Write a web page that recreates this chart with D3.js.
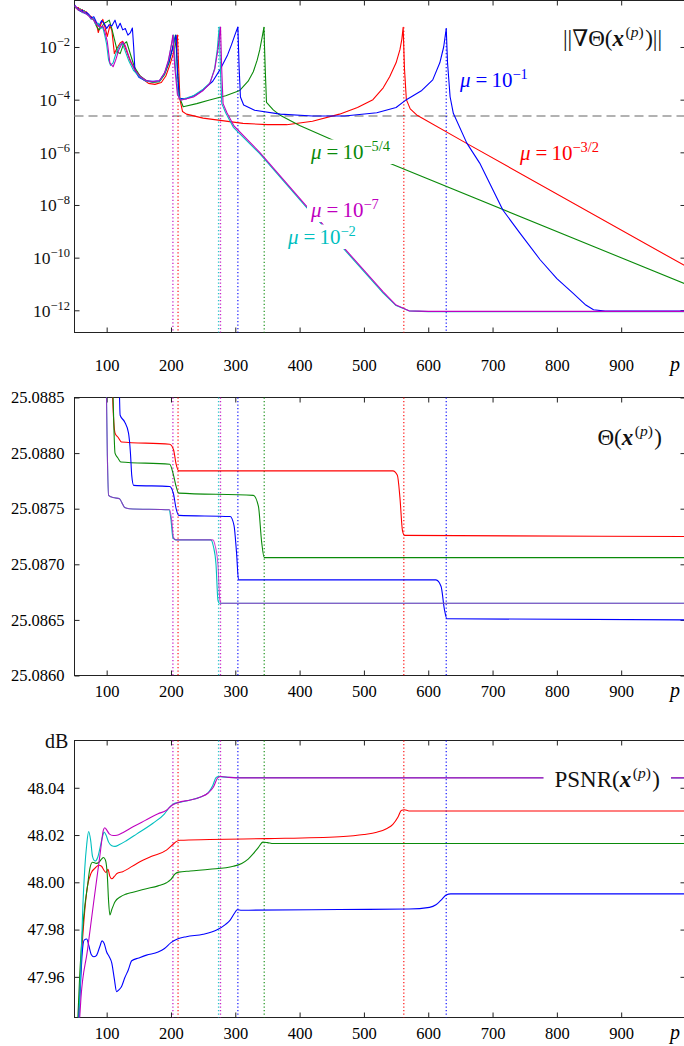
<!DOCTYPE html>
<html>
<head>
<meta charset="utf-8">
<script src="https://cdn.jsdelivr.net/npm/d3@7"></script>
<style>
  body { margin: 0; background: #fff; }
  svg { display: block; }
</style>
</head>
<body>
<div id="chart"></div>
<script>
// ---- data -------------------------------------------------------------
const pTicks = [100, 200, 300, 400, 500, 600, 700, 800, 900];
const gradTicks = [-2, -4, -6, -8, -10, -12];          // exponents, log axis
const thetaTicks = [25.0860, 25.0865, 25.0870, 25.0875, 25.0880, 25.0885];
const psnrTicks = [47.96, 47.98, 48.00, 48.02, 48.04];

// iterations where a run switches (dotted verticals) and log10 peak there
const switchIter = [203, 211, 274, 277, 304, 345, 562, 628];
const switchSeries = ['magenta', 'red', 'cyan', 'magenta', 'blue', 'green', 'red', 'blue'];
const switchPeak = [-1.55, -1.55, -1.24, -1.24, -1.24, -1.25, -1.25, -1.3];

const gradTolerance = -4.62;   // log10 of the dashed level

// log10 ||grad Theta(x^(p))||  as [p, exponent]
const gradRed = [[50,-0.42],[53,-0.55],[56,-0.5],[59,-0.62],[62,-0.58],[65,-0.7],[68,-0.66],[72,-0.78],[76,-0.85],[80,-0.95],[84,-1.1],[87,-1.45],[90,-1.2],[94,-0.95],[98,-1.3],[101,-1.6],[105,-1.2],[108,-1.35],[112,-2.25],[116,-2.05],[121,-1.85],[125,-1.78],[130,-2.1],[137,-2.55],[145,-2.9],[155,-3.2],[165,-3.38],[175,-3.42],[185,-3.35],[192,-3.1],[198,-2.7],[203,-2.3],[207,-1.9],[210,-1.55],[212,-2.8],[214,-4.0],[218,-4.45],[224,-4.55],[250,-4.7],[312,-4.9],[350,-4.95],[380,-4.95],[420,-4.82],[462,-4.55],[490,-4.3],[514,-4.0],[530,-3.55],[540,-3.13],[550,-2.6],[556,-2.1],[559,-1.7],[561,-1.25],[563,-2.8],[566,-4.0],[572,-4.35],[582,-4.58],[659,-5.65],[1000,-10.32]];
const gradGreen = [[50,-0.45],[53,-0.5],[56,-0.6],[59,-0.55],[62,-0.65],[65,-0.62],[68,-0.72],[72,-0.8],[76,-0.88],[80,-0.98],[84,-1.2],[88,-1.35],[92,-1.25],[96,-1.1],[100,-1.05],[104,-0.98],[108,-1.3],[112,-1.7],[117,-2.2],[121,-2.25],[126,-1.9],[131,-1.8],[136,-2.2],[143,-2.75],[152,-3.1],[162,-3.28],[172,-3.35],[182,-3.32],[190,-3.05],[197,-2.6],[202,-2.1],[205,-1.75],[207,-1.55],[210,-2.8],[213,-3.9],[219,-4.27],[240,-4.15],[260,-4.01],[285,-3.85],[307,-3.65],[320,-3.3],[328,-2.94],[334,-2.5],[338,-2.11],[342,-1.6],[344.5,-1.25],[346.5,-2.8],[348.5,-4.1],[359,-4.39],[369,-4.58],[400,-4.98],[462,-5.65],[520,-6.22],[1000,-11.0]];
const gradBlue = [[50,-0.4],[53,-0.5],[56,-0.55],[59,-0.65],[62,-0.6],[65,-0.72],[68,-0.68],[72,-0.75],[76,-0.9],[80,-0.85],[84,-1.05],[88,-1.2],[92,-1.0],[96,-1.1],[100,-1.3],[104,-1.15],[108,-1.2],[113,-0.98],[117,-1.3],[121,-1.1],[125,-1.35],[129,-1.3],[133,-1.55],[137,-1.45],[140,-1.28],[142,-2.0],[144,-2.9],[150,-3.15],[160,-3.28],[172,-3.3],[182,-3.28],[190,-3.0],[197,-2.55],[203,-2.0],[206,-1.7],[208,-1.55],[210,-2.9],[213,-3.95],[224,-3.97],[240,-3.8],[250,-3.63],[265,-3.3],[276,-2.87],[288,-2.3],[294,-1.92],[300,-1.5],[304,-1.24],[306,-2.8],[308,-3.9],[313,-4.2],[330,-4.4],[370,-4.55],[420,-4.62],[470,-4.62],[520,-4.5],[550,-4.3],[566,-4.0],[590,-3.65],[607,-3.25],[618,-2.6],[624,-2.0],[628,-1.3],[630,-2.6],[634,-3.89],[639,-4.52],[660,-5.65],[680,-6.41],[716,-8.19],[742,-9.05],[774,-10.08],[800,-10.8],[825,-11.35],[845,-11.8],[857,-11.98],[875,-12.03],[1000,-12.03]];
const gradCyan = [[50,-0.45],[53,-0.52],[56,-0.58],[59,-0.6],[62,-0.7],[65,-0.65],[68,-0.75],[72,-0.8],[76,-0.95],[79,-0.9],[83,-1.15],[87,-1.1],[90,-1.3],[94,-1.25],[97,-1.55],[100,-1.9],[103,-2.5],[106,-2.7],[110,-2.6],[115,-2.2],[120,-1.95],[124,-1.85],[128,-2.1],[134,-2.5],[142,-2.9],[152,-3.15],[162,-3.3],[172,-3.33],[182,-3.3],[190,-3.0],[196,-2.55],[200,-2.0],[204,-1.55],[207,-2.8],[211,-3.8],[215,-4.0],[225,-3.93],[235,-3.85],[250,-3.6],[261,-3.35],[268,-2.8],[272,-2.1],[275,-1.24],[277,-2.9],[279,-4.15],[285,-4.5],[297,-5.05],[338,-6.05],[411,-8.1],[468,-9.65],[530,-11.35],[550,-11.82],[570,-12.02],[600,-12.05],[1000,-12.05]];
const gradMagenta = [[50,-0.43],[53,-0.5],[56,-0.6],[59,-0.58],[62,-0.68],[65,-0.66],[68,-0.74],[72,-0.82],[76,-0.92],[79,-0.95],[83,-1.1],[87,-1.2],[90,-1.25],[94,-1.2],[97,-1.4],[101,-1.8],[105,-2.6],[110,-2.75],[114,-2.5],[119,-2.1],[125,-1.81],[129,-1.95],[135,-2.4],[143,-2.85],[152,-3.12],[162,-3.28],[172,-3.32],[182,-3.28],[190,-2.98],[196,-2.5],[200,-2.0],[203,-1.55],[206,-2.8],[210,-3.8],[215,-4.02],[235,-3.9],[250,-3.65],[260,-3.4],[268,-2.85],[273,-2.1],[277,-1.24],[279,-2.9],[281,-4.15],[287,-4.5],[298,-5.0],[338,-6.0],[411,-8.05],[468,-9.6],[530,-11.3],[550,-11.8],[570,-12.02],[600,-12.04],[1000,-12.04]];

// Theta(x^(p))
const thetaRed = [[106,25.0892],[110,25.0884],[113,25.08818],[118,25.08814],[123,25.0881],[198,25.08808],[204,25.08803],[208,25.0879],[212,25.08784],[545,25.08784],[552,25.0878],[556,25.0876],[560,25.0873],[563,25.08726],[1000,25.08725]];
const thetaGreen = [[106,25.0895],[110,25.0885],[113,25.0880],[117,25.08796],[122,25.08792],[198,25.0879],[204,25.0878],[208,25.0877],[212,25.08764],[328,25.08762],[336,25.08752],[341,25.0872],[345,25.08706],[1000,25.08706]];
const thetaBlue = [[118,25.0893],[121,25.08834],[128,25.08828],[134,25.08818],[137,25.0880],[139,25.0878],[142,25.08771],[198,25.0877],[204,25.08763],[208,25.0875],[212,25.08744],[292,25.08743],[298,25.08735],[302,25.0871],[305,25.08686],[612,25.08686],[620,25.0868],[625,25.0866],[629,25.08651],[1000,25.0865]];
const thetaCyan = [[98,25.0892],[101,25.0880],[103,25.08762],[110,25.0876],[120,25.08759],[124,25.08755],[128,25.08751],[135,25.0875],[197,25.08749],[200,25.0874],[203,25.08724],[207,25.08722],[262,25.08722],[266,25.08716],[270,25.087],[273,25.08668],[275,25.08665],[1000,25.08665]];
const thetaMagenta = [[98,25.0892],[101,25.0880],[103,25.08762],[110,25.0876],[120,25.08759],[124,25.08755],[128,25.08751],[135,25.0875],[198,25.08749],[201,25.0874],[204,25.08724],[208,25.08722],[265,25.08722],[269,25.08716],[273,25.087],[276,25.08668],[278,25.08665],[1000,25.08665]];

// PSNR(x^(p)) in dB
const psnrRed = [[55,47.935],[60,47.965],[65,47.985],[70,47.998],[76,48.004],[82,48.006],[88,48.0072],[92,48.0068],[96,48.005],[99,48.0042],[102,48.0055],[105,48.0025],[108,48.0015],[112,48.0025],[116,48.0037],[125,48.0045],[147,48.008],[170,48.011],[193,48.0136],[203,48.016],[208,48.0172],[214,48.0178],[260,48.0181],[350,48.0185],[462,48.0193],[500,48.0202],[520,48.0212],[535,48.0227],[545,48.0245],[553,48.0276],[558,48.0304],[563,48.0307],[570,48.0302],[1000,48.0302]];
const psnrGreen = [[54,47.935],[58,47.96],[62,47.978],[66,47.99],[70,47.998],[74,48.006],[78,48.0085],[84,48.008],[88,48.0085],[92,48.0098],[95,48.0105],[98,48.0095],[101,48.003],[103,47.992],[105,47.9862],[108,47.9885],[113,47.9918],[121,47.9938],[130,47.995],[141,47.9958],[160,47.9972],[180,47.9985],[193,47.9998],[200,48.0012],[206,48.0035],[212,48.0043],[230,48.0048],[260,48.0055],[297,48.0068],[310,48.008],[320,48.0098],[328,48.0121],[336,48.0148],[343,48.017],[350,48.0168],[359,48.0164],[1000,48.0164]];
const psnrBlue = [[55,47.935],[59,47.955],[62,47.97],[65,47.9755],[69,47.976],[72,47.9735],[76,47.9695],[80,47.9685],[84,47.969],[89,47.9725],[93,47.9752],[96,47.9742],[100,47.9705],[104,47.9685],[108,47.9658],[112,47.959],[115.5,47.9537],[119,47.9545],[123,47.9558],[128,47.9595],[133.6,47.9629],[139,47.9668],[150,47.968],[162,47.9692],[180,47.9705],[190,47.972],[200,47.9745],[210,47.976],[224,47.977],[250,47.978],[271,47.9798],[285,47.9822],[292,47.984],[299,47.987],[303,47.9884],[310,47.9882],[462,47.9885],[570,47.9887],[602,47.9894],[612,47.9905],[620,47.9925],[628,47.9946],[635,47.9951],[1000,47.9951]];
const psnrCyan = [[56,47.935],[60,47.965],[63,47.99],[66,48.006],[69,48.016],[72,48.0215],[75,48.018],[78,48.011],[82,48.009],[86,48.0105],[90,48.015],[94,48.0198],[96,48.0213],[99,48.02],[103,48.017],[108,48.0155],[113,48.0152],[120,48.016],[130,48.0175],[147,48.0205],[172,48.025],[190,48.029],[198,48.0318],[205,48.0333],[211,48.0337],[230,48.0348],[245,48.036],[258,48.038],[265,48.041],[270,48.0443],[274,48.0448],[280,48.0446],[300,48.0443],[1000,48.0442]];
const psnrMagenta = [[57,47.938],[60,47.951],[70,47.971],[80,47.992],[90,48.0124],[95,48.0222],[97,48.0231],[100,48.0222],[104,48.0205],[110,48.0198],[116,48.0199],[125,48.021],[141,48.0235],[160,48.0262],[180,48.029],[193,48.0305],[201,48.0325],[211,48.0338],[230,48.0348],[245,48.036],[258,48.0378],[266,48.0403],[273,48.0443],[278,48.0448],[290,48.0444],[302,48.0442],[1000,48.0442]];

// ---- drawing ----------------------------------------------------------
const FONT = '"Liberation Serif", "DejaVu Serif", serif';
const colors = { red: '#ff0000', green: '#0a8a0a', blue: '#0000ff', cyan: '#00bfbf', magenta: '#bf00bf' };

const svg = d3.select('#chart').append('svg')
    .attr('width', 684).attr('height', 1046)
    .attr('font-family', FONT);

const x = d3.scaleLinear().domain([50, 1000]).range([74.5, 685.5]);
const xl = x.range()[0], xr = x.range()[1];

const yGrad = d3.scaleLog().domain([Math.pow(10, -12.843), Math.pow(10, -0.234)]).range([332.5, 0.5]);
const yTheta = d3.scaleLinear().domain([25.0860, 25.0885]).range([675.5, 397.5]);
const yPsnr = d3.scaleLinear().domain([47.9428, 48.0600]).range([1017.5, 740.5]);

function frame(y, top, bottom, name, labelPad) {
    let g = svg.append('g');
    // clip for the curves
    svg.append('clipPath').attr('id', 'clip-' + name)
        .append('rect').attr('x', xl).attr('y', top).attr('width', xr - xl).attr('height', bottom - top);

    // bottom axis with labels
    let bx = g.append('g').attr('transform', 'translate(0,' + bottom + ')')
        .call(d3.axisBottom(x).tickValues(pTicks).tickSize(-5).tickPadding(labelPad));
    bx.select('.domain').remove();
    bx.attr('font-family', FONT).attr('font-size', 16.5);
    bx.selectAll('line').attr('stroke', '#222');

    // top ticks
    let tx = g.append('g').attr('transform', 'translate(0,' + top + ')')
        .call(d3.axisTop(x).tickValues(pTicks).tickSize(-5).tickFormat(''));
    tx.select('.domain').remove();
    tx.selectAll('line').attr('stroke', '#222');

    // x label
    g.append('text')
        .attr('x', 670).attr('y', bottom + labelPad + 11.7)
        .attr('font-size', 20).attr('font-style', 'italic')
        .text('p');

    g.append('rect')
        .attr('x', xl).attr('y', top).attr('width', xr - xl).attr('height', bottom - top)
        .attr('fill', 'none').attr('stroke', '#222').attr('stroke-width', 1);
    return g;
}

function yTicks(g, axis) {
    let ly = g.append('g').attr('transform', 'translate(' + xl + ',0)').call(axis.left);
    ly.select('.domain').remove();
    ly.attr('font-family', FONT).attr('font-size', 16.5);
    ly.selectAll('line').attr('stroke', '#222');
    let ry = g.append('g').attr('transform', 'translate(' + xr + ',0)').call(axis.right);
    ry.select('.domain').remove();
    ry.selectAll('line').attr('stroke', '#222');
    return ly;
}

function drawSeries(y, list, clipName, curve, yval) {
    let line = d3.line()
        .x(d => x(d[0]))
        .y(d => y(yval(d[1])))
        .curve(curve);
    let g = svg.append('g').attr('clip-path', 'url(#clip-' + clipName + ')');
    list.forEach(s => {
        g.append('path')
            .datum(s.data)
            .attr('d', line)
            .attr('fill', 'none')
            .attr('stroke', colors[s.color])
            .attr('stroke-opacity', s.opacity || 1)
            .attr('stroke-width', 1.1)
            .attr('stroke-linejoin', 'round');
    });
}

function switchLines(yTopFn, bottom) {
    svg.append('g').selectAll('line')
        .data(switchIter)
        .enter()
        .append('line')
        .attr('x1', d => x(d)).attr('x2', d => x(d))
        .attr('y1', (d, i) => yTopFn(i))
        .attr('y2', bottom)
        .attr('stroke', (d, i) => colors[switchSeries[i]])
        .attr('stroke-opacity', 0.85)
        .attr('stroke-width', 1.3)
        .attr('stroke-dasharray', '1.3,2.2');
}

// a "mu = 10^e" label, with a white box behind it
function muLabel(px, py, color, expo) {
    let g = svg.append('g');
    let t = g.append('text').attr('x', px).attr('y', py)
        .attr('fill', colors[color]).attr('font-size', 21);
    t.append('tspan').attr('font-style', 'italic').text('μ');
    t.append('tspan').attr('dx', 5).text('=');
    t.append('tspan').attr('dx', 4).text('10');
    t.append('tspan').attr('dy', -8.5).attr('font-size', 14.5).text(expo);
    let b = t.node().getBBox();
    g.insert('rect', 'text')
        .attr('x', b.x - 3).attr('y', b.y + 2).attr('width', b.width + 6).attr('height', b.height - 2)
        .attr('fill', '#fff');
}

// a math title like  Theta(x^(p)) , right aligned
function mathTitle(px, py, before, after, pad) {
    let g = svg.append('g');
    let t = g.append('text').attr('x', px).attr('y', py)
        .attr('text-anchor', 'end').attr('font-size', 23).attr('fill', '#111');
    t.append('tspan').text(before);
    t.append('tspan').attr('font-weight', 'bold').attr('font-style', 'italic').text('x');
    t.append('tspan').attr('dx', 1.5).attr('dy', -9).attr('font-size', 15.5).text('(');
    t.append('tspan').attr('font-size', 15.5).attr('font-style', 'italic').text('p');
    t.append('tspan').attr('font-size', 15.5).text(')');
    t.append('tspan').attr('dx', 1.5).attr('dy', 9).text(after);
    if (pad) {
        let b = t.node().getBBox();
        g.insert('rect', 'text')
            .attr('x', b.x - pad).attr('y', b.y).attr('width', b.width + 2 * pad).attr('height', b.height)
            .attr('fill', '#fff');
    }
}

// ---- panel 1 : gradient norm (log scale) ----
let g1 = frame(yGrad, 0.5, 332.5, 'grad', 27);
yTicks(g1, {
    left: d3.axisLeft(yGrad).tickValues(gradTicks.map(e => Math.pow(10, e))).tickSize(-5).tickFormat(''),
    right: d3.axisRight(yGrad).tickValues(gradTicks.map(e => Math.pow(10, e))).tickSize(-5).tickFormat('')
});
gradTicks.forEach(e => {
    let t = svg.append('text')
        .attr('x', 70).attr('y', yGrad(Math.pow(10, e)) + 6.3)
        .attr('text-anchor', 'end').attr('fill', '#111');
    t.append('tspan').attr('font-size', 17.5).text('10');
    t.append('tspan').attr('dy', -7).attr('font-size', 12.5).text('−' + Math.abs(e));
});

svg.append('line')
    .attr('x1', xl).attr('x2', xr)
    .attr('y1', yGrad(Math.pow(10, gradTolerance))).attr('y2', yGrad(Math.pow(10, gradTolerance)))
    .attr('stroke', '#999').attr('stroke-width', 1.4).attr('stroke-dasharray', '9,5');

switchLines(i => yGrad(Math.pow(10, switchPeak[i])), 332.5);

drawSeries(yGrad, [
    { data: gradRed, color: 'red' },
    { data: gradGreen, color: 'green' },
    { data: gradBlue, color: 'blue' },
    { data: gradCyan, color: 'cyan' },
    { data: gradMagenta, color: 'magenta' }
], 'grad', d3.curveLinear, v => Math.pow(10, v));

muLabel(460, 87, 'blue', '−1');
muLabel(520, 160, 'red', '−3/2');
muLabel(311, 159, 'green', '−5/4');
muLabel(311, 217, 'magenta', '−7');
muLabel(288, 244, 'cyan', '−2');
mathTitle(662, 46, '||∇Θ(', ')||', 0);

// ---- panel 2 : objective ----
let g2 = frame(yTheta, 397.5, 675.5, 'theta', 10);
yTicks(g2, {
    left: d3.axisLeft(yTheta).tickValues(thetaTicks).tickSize(-5).tickPadding(10).tickFormat(d3.format('.4f')),
    right: d3.axisRight(yTheta).tickValues(thetaTicks).tickSize(-5).tickFormat('')
});
switchLines(() => 397.5, 675.5);
drawSeries(yTheta, [
    { data: thetaRed, color: 'red' },
    { data: thetaGreen, color: 'green' },
    { data: thetaBlue, color: 'blue' },
    { data: thetaCyan, color: 'cyan' },
    { data: thetaMagenta, color: 'magenta', opacity: 0.7 }
], 'theta', d3.curveMonotoneX, v => v);
mathTitle(662, 445, 'Θ(', ')', 0);

// ---- panel 3 : PSNR ----
let g3 = frame(yPsnr, 740.5, 1017.5, 'psnr', 10);
yTicks(g3, {
    left: d3.axisLeft(yPsnr).tickValues(psnrTicks).tickSize(-5).tickPadding(10).tickFormat(d3.format('.2f')),
    right: d3.axisRight(yPsnr).tickValues(psnrTicks).tickSize(-5).tickFormat('')
});
switchLines(() => 740.5, 1017.5);
drawSeries(yPsnr, [
    { data: psnrRed, color: 'red' },
    { data: psnrGreen, color: 'green' },
    { data: psnrBlue, color: 'blue' },
    { data: psnrCyan, color: 'cyan' },
    { data: psnrMagenta, color: 'magenta' }
], 'psnr', d3.curveMonotoneX, v => v);
mathTitle(660, 787, 'PSNR(', ')', 11);

svg.append('text').attr('x', 45).attr('y', 748).attr('font-size', 20).attr('fill', '#111').text('dB');
</script>
</body>
</html>
